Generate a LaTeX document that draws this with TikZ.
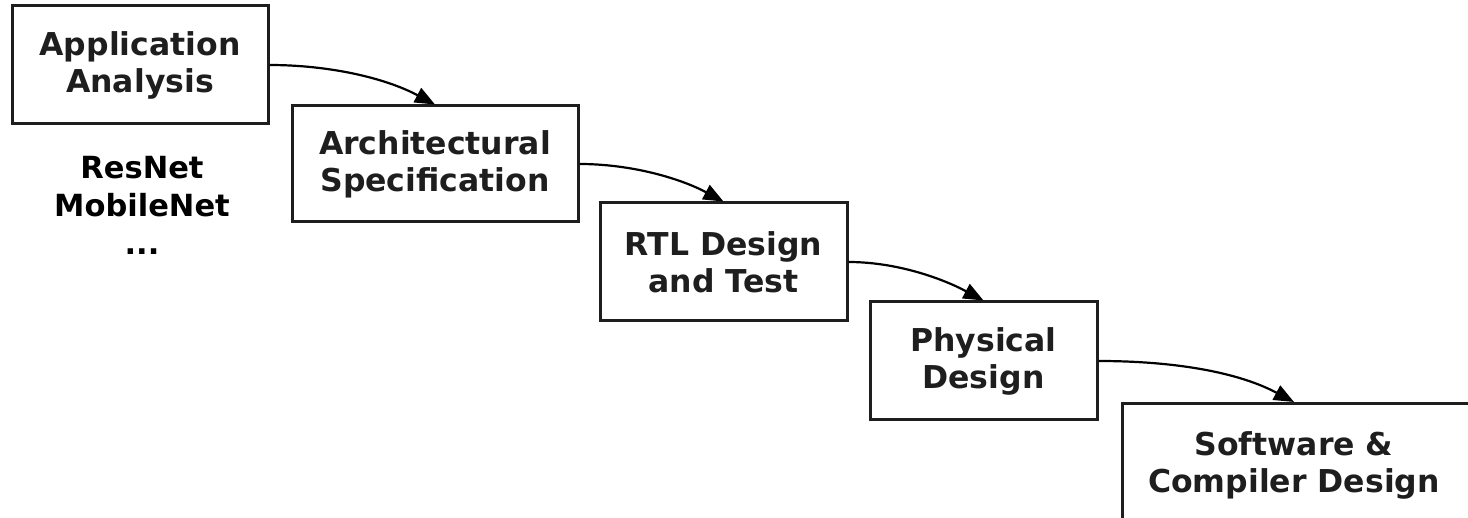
\documentclass[tikz,border=0pt]{standalone}
\usepackage{fontspec}
\setmainfont{DejaVu Sans}
\usetikzlibrary{arrows.meta}
\definecolor{boxgray}{HTML}{1E1E1E}
\begin{document}
\begin{tikzpicture}[x=1pt,y=-1pt,
  stage/.style={draw=boxgray, line width=3pt, text=boxgray, align=center,
    font=\fontsize{31.5}{37}\selectfont\bfseries, inner sep=0pt},
  label/.style={text=black, align=center,
    font=\fontsize{30.5}{38}\selectfont\bfseries, inner sep=0pt},
  flow/.style={line width=2.2pt, black, -{Triangle[length=20pt,width=16pt]},
    out=0, in=152, looseness=0.87}]
  \useasboundingbox (0,0) rectangle (1468,518);
  \clip (0,0) rectangle (1468,518);

  \node[stage, minimum width=256pt, minimum height=118pt] (app) at (140,65)
    {Application\\Analysis};
  \node[stage, minimum width=286pt, minimum height=116pt] (arch) at (435,164)
    {Architectural\\Specification};
  \node[stage, minimum width=247pt, minimum height=118pt] (rtl) at (723.5,262)
    {RTL Design\\and Test};
  \node[stage, minimum width=227pt, minimum height=118pt] (phys) at (983.5,361)
    {Physical\\Design};
  % last stage runs off the page edge
  \node[draw=boxgray, line width=3pt, anchor=north west,
    minimum width=380pt, minimum height=130pt] (sw) at (1121,402) {};
  \node[stage, draw=none] (swtext) at (1294,465) {Software \&\\Compiler Design};

  \node[label] (nets) at (142,205) {ResNet\\MobileNet\\...};

  \draw[flow] (app.east) to (arch.north);
  \draw[flow] (arch.east) to (rtl.north);
  \draw[flow] (rtl.east) to (phys.north);
  \draw[flow] (phys.east) to (swtext.center |- sw.north);
\end{tikzpicture}
\end{document}
